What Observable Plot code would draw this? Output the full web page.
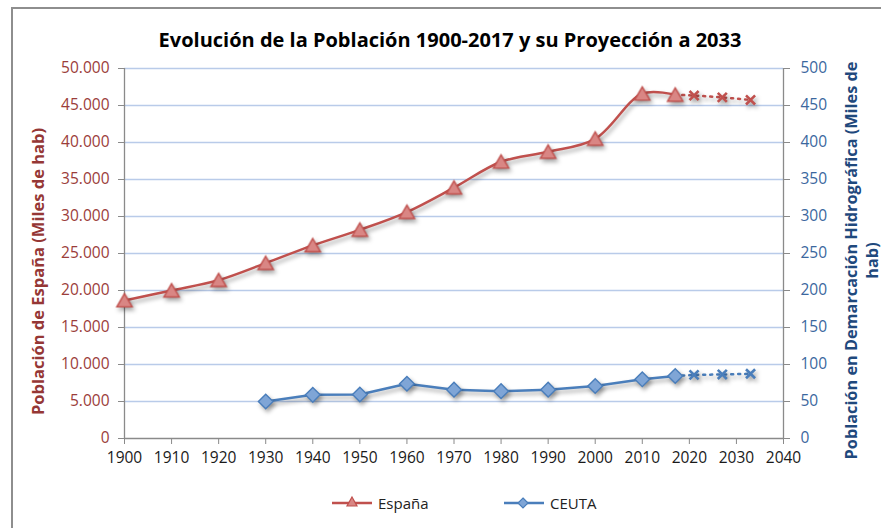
<!DOCTYPE html>
<html>
<head>
<meta charset="utf-8">
<script src="https://cdn.jsdelivr.net/npm/d3@7"></script>
<script src="https://cdn.jsdelivr.net/npm/@observablehq/plot@0.6"></script>
<style>
  html, body { margin: 0; padding: 0; background: #fff; }
  #wrap { position: relative; width: 881px; height: 528px; overflow: hidden; font-family: "Open Sans", sans-serif; }
  #frame { position: absolute; left: 11px; top: 7px; width: 900px; height: 600px; border: 2px solid #8e8e8e; box-sizing: border-box; }
  #title { position: absolute; left: 0; width: 900px; top: 26px; text-align: center; font-weight: 700; font-size: 20px; line-height: 28px; color: #000; white-space: nowrap; }
  #chart { position: absolute; left: 0; top: 50px; }
  #legend { position: absolute; top: 491px; left: 0; width: 881px; height: 24px; font-size: 15px; color: #222; }
  .lg { position: absolute; top: 0; display: flex; align-items: center; height: 24px; }
  g[aria-label="line"], g[aria-label="dot"] { filter: drop-shadow(2px 3px 2px rgba(0,0,0,0.35)); }
</style>
</head>
<body>
<div id="wrap">
  <div id="frame"></div>
  <div id="title">Evolución de la Población 1900-2017 y su Proyección a 2033</div>
  <div id="chart"></div>
  <div id="legend"></div>
</div>
<script>
// ---- data ----
const years = [1900, 1910, 1920, 1930, 1940, 1950, 1960, 1970, 1980, 1990, 2000, 2010, 2017];
const spain = [18650, 20000, 21400, 23700, 26100, 28200, 30600, 33900, 37400, 38750, 40500, 46600, 46450]; // miles de hab
const projYears = [2017, 2021, 2027, 2033];
const spainProj = [46450, 46350, 46100, 45750];
const ceutaYears = [1930, 1940, 1950, 1960, 1970, 1980, 1990, 2000, 2010, 2017];
const ceuta = [50, 59, 59.5, 74, 66, 64, 66, 71, 80, 84.5]; // miles de hab (eje derecho)
const ceutaProj = [84.5, 86, 86.5, 87.5];
const xTicks = [1900, 1910, 1920, 1930, 1940, 1950, 1960, 1970, 1980, 1990, 2000, 2010, 2020, 2030, 2040];
const leftTicks = [0, 5000, 10000, 15000, 20000, 25000, 30000, 35000, 40000, 45000, 50000];
const rightTicks = [0, 50, 100, 150, 200, 250, 300, 350, 400, 450, 500];
const leftTitle = "Población de España (Miles de hab)";
const rightTitle = "Población en Demarcación Hidrográfica (Miles de\nhab)";
const seriesNames = ["España", "CEUTA"];

// ---- build tables ----
const ratio = 50000 / 500; // right axis mapped onto left scale
const spainData = years.map((y, i) => ({year: y, v: spain[i]}));
const spainProjData = projYears.map((y, i) => ({year: y, v: spainProj[i]}));
const ceutaData = ceutaYears.map((y, i) => ({year: y, v: ceuta[i] * ratio}));
const ceutaProjData = projYears.map((y, i) => ({year: y, v: ceutaProj[i] * ratio}));

const red = "#c0504d", redFill = "#d98684", redText = "#9b3d3a";
const blue = "#4a7ebb", blueFill = "#7fa5d6", blueText = "#3b679e", blueTitle = "#1f497d";
const esFmt = d => d3.format(",")(d).replace(/,/g, ".");

const chart = Plot.plot({
  width: 881,
  height: 420,
  marginTop: 18,
  marginBottom: 32,
  marginLeft: 124,
  marginRight: 98,
  style: {fontFamily: "'Open Sans', sans-serif", fontSize: "15.5px", background: "transparent", overflow: "visible"},
  x: {domain: [1900, 2040]},
  y: {domain: [0, 50000]},
  marks: [
    Plot.ruleY(leftTicks.filter(d => d > 0), {stroke: "#b9cbe9", strokeWidth: 1.3}),
    Plot.ruleX([1900, 2040], {stroke: "#8a8a8a", strokeWidth: 1.3}),
    Plot.ruleY([0], {stroke: "#8a8a8a", strokeWidth: 1.3}),
    Plot.axisX({ticks: xTicks, tickFormat: d => String(d), tickSize: 6, tickPadding: 7, stroke: "#8a8a8a", fill: "#1a1a1a", label: null}),
    Plot.axisY({anchor: "left", ticks: leftTicks, tickFormat: esFmt, tickSize: 6, tickPadding: 9, stroke: "#8a8a8a", fill: redText, label: null}),
    Plot.axisY({anchor: "right", ticks: leftTicks, tickFormat: d => String(d / ratio), tickSize: 6, tickPadding: 11, stroke: "#8a8a8a", fill: blueText, label: null}),
    Plot.text([leftTitle], {frameAnchor: "left", textAnchor: "middle", lineAnchor: "middle", rotate: -90, dx: -86, dy: 18, fill: "#953735", fontWeight: 700, fontSize: 16.5}),
    Plot.text([rightTitle], {frameAnchor: "right", textAnchor: "middle", lineAnchor: "middle", rotate: -90, dx: 77, dy: 7, fill: blueTitle, fontWeight: 700, fontSize: 16.3, lineHeight: 1.33}),
    // projections (dotted)
    Plot.line(spainProjData, {x: "year", y: "v", stroke: red, strokeWidth: 2.5, strokeDasharray: "2,5"}),
    Plot.line(ceutaProjData, {x: "year", y: "v", stroke: blue, strokeWidth: 2.5, strokeDasharray: "2,5"}),
    Plot.dot(spainProjData.slice(1), {x: "year", y: "v", symbol: "times", r: 4.2, stroke: red, strokeWidth: 2.6}),
    Plot.dot(ceutaProjData.slice(1), {x: "year", y: "v", symbol: "times", r: 4.2, stroke: blue, strokeWidth: 2.6}),
    // observed series
    Plot.line(spainData, {x: "year", y: "v", stroke: red, strokeWidth: 2.5, curve: "catmull-rom"}),
    Plot.line(ceutaData, {x: "year", y: "v", stroke: blue, strokeWidth: 2.5}),
    Plot.dot(spainData, {x: "year", y: "v", symbol: "triangle", r: 5.7, dy: 2, fill: redFill, stroke: red, strokeWidth: 1.4}),
    Plot.dot(ceutaData, {x: "year", y: "v", symbol: "diamond2", r: 6.6, fill: blueFill, stroke: blue, strokeWidth: 1.4})
  ]
});
document.getElementById("chart").appendChild(chart);

// ---- legend ----
const legend = document.getElementById("legend");
const items = [
  {name: seriesNames[0], x: 332, color: red, fill: redFill, sym: "tri"},
  {name: seriesNames[1], x: 504, color: blue, fill: blueFill, sym: "dia"}
];
items.forEach(it => {
  const div = document.createElement("div");
  div.className = "lg";
  div.style.left = it.x + "px";
  const marker = it.sym === "tri"
    ? `<path d="M20,6 L25,15 L15,15 Z" fill="${it.fill}" stroke="${it.color}" stroke-width="1.2"/>`
    : `<path d="M19,7 L24,12 L19,17 L14,12 Z" fill="${it.fill}" stroke="${it.color}" stroke-width="1.2"/>`;
  div.innerHTML = `<svg width="40" height="24" style="display:block"><line x1="0" x2="40" y1="12" y2="12" stroke="${it.color}" stroke-width="2.5"/>${marker}</svg><span style="margin-left:6px">${it.name}</span>`;
  legend.appendChild(div);
});
</script>
</body>
</html>
